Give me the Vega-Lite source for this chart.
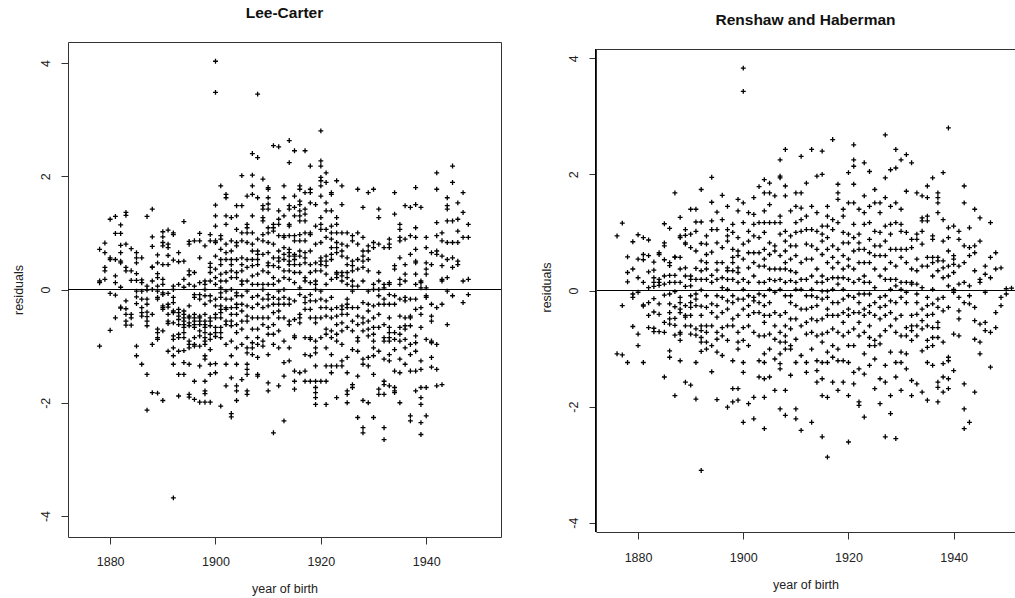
{
"$schema":"https://vega.github.io/schema/vega-lite/v6.json",
"background":"white",
"padding":{"left":11,"top":5,"right":0,"bottom":0},
"config":{
"font":"Liberation Sans",
"view":{"stroke":"#333","strokeWidth":1},
"axis":{"grid":false,"domain":false,"tickColor":"#333","tickSize":7,"tickWidth":1,"labelFont":"Liberation Sans","labelFontSize":12.5,"labelColor":"#222","titleFont":"Liberation Sans","titleFontSize":12.5,"titleFontWeight":"normal","titleColor":"#222","labelOverlap":false,"labelFlush":false},
"title":{"font":"Liberation Sans","fontSize":15.5,"fontWeight":"bold","color":"#111","offset":21,"anchor":"middle"},
"concat":{"spacing":37}
},
"datasets":{
"lc":[
{"x":1878,"y":0.71},{"x":1878,"y":0.15},{"x":1878,"y":0.12},{"x":1878,"y":-1.00},
{"x":1879,"y":0.82},{"x":1879,"y":0.65},{"x":1879,"y":0.39},{"x":1879,"y":0.33},{"x":1879,"y":0.18},
{"x":1880,"y":1.24},{"x":1880,"y":0.56},{"x":1880,"y":0.53},{"x":1880,"y":-0.07},{"x":1880,"y":-0.72},
{"x":1881,"y":1.29},{"x":1881,"y":0.99},{"x":1881,"y":0.53},{"x":1881,"y":0.24},{"x":1881,"y":0.12},{"x":1881,"y":-0.10},{"x":1881,"y":-0.50},
{"x":1882,"y":1.14},{"x":1882,"y":0.99},{"x":1882,"y":0.78},{"x":1882,"y":0.65},{"x":1882,"y":0.50},{"x":1882,"y":0.47},{"x":1882,"y":0.04},{"x":1882,"y":-0.31},{"x":1882,"y":-0.33},
{"x":1883,"y":1.36},{"x":1883,"y":1.31},{"x":1883,"y":0.80},{"x":1883,"y":0.39},{"x":1883,"y":0.33},{"x":1883,"y":-0.20},{"x":1883,"y":-0.34},{"x":1883,"y":-0.44},{"x":1883,"y":-0.56},{"x":1883,"y":-0.63},
{"x":1884,"y":0.72},{"x":1884,"y":0.33},{"x":1884,"y":0.16},{"x":1884,"y":-0.44},{"x":1884,"y":-0.50},{"x":1884,"y":-0.63},
{"x":1885,"y":0.65},{"x":1885,"y":0.56},{"x":1885,"y":0.47},{"x":1885,"y":0.28},{"x":1885,"y":0.16},{"x":1885,"y":-0.03},{"x":1885,"y":-0.13},{"x":1885,"y":-0.25},{"x":1885,"y":-1.00},{"x":1885,"y":-1.17},
{"x":1886,"y":0.56},{"x":1886,"y":0.17},{"x":1886,"y":0.12},{"x":1886,"y":-0.03},{"x":1886,"y":-0.17},{"x":1886,"y":-0.32},{"x":1886,"y":-0.41},{"x":1886,"y":-0.47},{"x":1886,"y":-1.32},
{"x":1887,"y":1.29},{"x":1887,"y":0.06},{"x":1887,"y":-0.01},{"x":1887,"y":-0.17},{"x":1887,"y":-0.26},{"x":1887,"y":-0.40},{"x":1887,"y":-0.48},{"x":1887,"y":-0.56},{"x":1887,"y":-0.64},{"x":1887,"y":-1.50},{"x":1887,"y":-2.13},
{"x":1888,"y":1.42},{"x":1888,"y":0.93},{"x":1888,"y":0.76},{"x":1888,"y":0.40},{"x":1888,"y":0.39},{"x":1888,"y":0.15},{"x":1888,"y":0.00},{"x":1888,"y":-0.44},{"x":1888,"y":-0.97},{"x":1888,"y":-1.82},
{"x":1889,"y":0.61},{"x":1889,"y":0.47},{"x":1889,"y":0.28},{"x":1889,"y":0.21},{"x":1889,"y":0.06},{"x":1889,"y":-0.03},{"x":1889,"y":-0.14},{"x":1889,"y":-0.17},{"x":1889,"y":-0.70},{"x":1889,"y":-0.76},{"x":1889,"y":-0.85},{"x":1889,"y":-0.88},{"x":1889,"y":-1.83},
{"x":1890,"y":1.02},{"x":1890,"y":0.93},{"x":1890,"y":0.83},{"x":1890,"y":0.77},{"x":1890,"y":0.44},{"x":1890,"y":0.18},{"x":1890,"y":0.09},{"x":1890,"y":-0.06},{"x":1890,"y":-0.09},{"x":1890,"y":-0.29},{"x":1890,"y":-0.32},{"x":1890,"y":-0.35},{"x":1890,"y":-0.73},{"x":1890,"y":-1.96},
{"x":1891,"y":1.05},{"x":1891,"y":0.80},{"x":1891,"y":0.74},{"x":1891,"y":0.60},{"x":1891,"y":0.44},{"x":1891,"y":-0.07},{"x":1891,"y":-0.26},{"x":1891,"y":-0.31},{"x":1891,"y":-0.44},{"x":1891,"y":-0.56},{"x":1891,"y":-0.60},{"x":1891,"y":-1.09},
{"x":1892,"y":1.00},{"x":1892,"y":0.97},{"x":1892,"y":0.52},{"x":1892,"y":0.06},{"x":1892,"y":0.00},{"x":1892,"y":-0.14},{"x":1892,"y":-0.23},{"x":1892,"y":-0.38},{"x":1892,"y":-0.41},{"x":1892,"y":-0.59},{"x":1892,"y":-0.82},{"x":1892,"y":-0.88},{"x":1892,"y":-1.03},{"x":1892,"y":-1.17},{"x":1892,"y":-1.32},{"x":1892,"y":-3.68},
{"x":1893,"y":0.65},{"x":1893,"y":0.49},{"x":1893,"y":0.09},{"x":1893,"y":-0.35},{"x":1893,"y":-0.41},{"x":1893,"y":-0.47},{"x":1893,"y":-0.53},{"x":1893,"y":-0.62},{"x":1893,"y":-0.79},{"x":1893,"y":-0.85},{"x":1893,"y":-1.09},{"x":1893,"y":-1.50},{"x":1893,"y":-1.88},
{"x":1894,"y":1.20},{"x":1894,"y":0.50},{"x":1894,"y":0.18},{"x":1894,"y":0.04},{"x":1894,"y":-0.38},{"x":1894,"y":-0.44},{"x":1894,"y":-0.50},{"x":1894,"y":-0.56},{"x":1894,"y":-0.62},{"x":1894,"y":-0.67},{"x":1894,"y":-0.76},{"x":1894,"y":-0.85},{"x":1894,"y":-1.08},{"x":1894,"y":-1.29},{"x":1894,"y":-1.50},
{"x":1895,"y":0.85},{"x":1895,"y":0.80},{"x":1895,"y":0.33},{"x":1895,"y":0.26},{"x":1895,"y":0.09},{"x":1895,"y":-0.29},{"x":1895,"y":-0.47},{"x":1895,"y":-0.50},{"x":1895,"y":-0.59},{"x":1895,"y":-0.64},{"x":1895,"y":-0.91},{"x":1895,"y":-0.97},{"x":1895,"y":-1.03},{"x":1895,"y":-1.32},{"x":1895,"y":-1.85},{"x":1895,"y":-1.90},
{"x":1896,"y":0.86},{"x":1896,"y":0.30},{"x":1896,"y":0.06},{"x":1896,"y":-0.09},{"x":1896,"y":-0.14},{"x":1896,"y":-0.44},{"x":1896,"y":-0.50},{"x":1896,"y":-0.56},{"x":1896,"y":-0.62},{"x":1896,"y":-0.67},{"x":1896,"y":-0.85},{"x":1896,"y":-0.97},{"x":1896,"y":-1.00},{"x":1896,"y":-1.62},{"x":1896,"y":-1.94},
{"x":1897,"y":0.99},{"x":1897,"y":0.86},{"x":1897,"y":0.56},{"x":1897,"y":0.12},{"x":1897,"y":-0.09},{"x":1897,"y":-0.17},{"x":1897,"y":-0.47},{"x":1897,"y":-0.50},{"x":1897,"y":-0.56},{"x":1897,"y":-0.62},{"x":1897,"y":-0.73},{"x":1897,"y":-0.82},{"x":1897,"y":-1.00},{"x":1897,"y":-1.35},{"x":1897,"y":-1.99},
{"x":1898,"y":0.77},{"x":1898,"y":0.15},{"x":1898,"y":0.09},{"x":1898,"y":0.00},{"x":1898,"y":-0.11},{"x":1898,"y":-0.26},{"x":1898,"y":-0.44},{"x":1898,"y":-0.56},{"x":1898,"y":-0.62},{"x":1898,"y":-0.67},{"x":1898,"y":-0.76},{"x":1898,"y":-0.85},{"x":1898,"y":-0.91},{"x":1898,"y":-0.97},{"x":1898,"y":-1.17},{"x":1898,"y":-1.23},{"x":1898,"y":-1.62},{"x":1898,"y":-1.79},{"x":1898,"y":-1.84},{"x":1898,"y":-1.99},
{"x":1899,"y":0.97},{"x":1899,"y":0.86},{"x":1899,"y":0.46},{"x":1899,"y":0.39},{"x":1899,"y":0.30},{"x":1899,"y":0.15},{"x":1899,"y":-0.11},{"x":1899,"y":-0.20},{"x":1899,"y":-0.50},{"x":1899,"y":-0.56},{"x":1899,"y":-0.64},{"x":1899,"y":-0.79},{"x":1899,"y":-0.88},{"x":1899,"y":-1.06},{"x":1899,"y":-1.32},{"x":1899,"y":-1.50},{"x":1899,"y":-1.99},
{"x":1900,"y":4.03},{"x":1900,"y":3.48},{"x":1900,"y":1.49},{"x":1900,"y":1.30},{"x":1900,"y":1.12},{"x":1900,"y":0.86},{"x":1900,"y":0.83},{"x":1900,"y":0.59},{"x":1900,"y":0.36},{"x":1900,"y":0.21},{"x":1900,"y":0.09},{"x":1900,"y":-0.17},{"x":1900,"y":-0.29},{"x":1900,"y":-0.44},{"x":1900,"y":-0.50},{"x":1900,"y":-0.67},{"x":1900,"y":-0.76},{"x":1900,"y":-0.83},{"x":1900,"y":-1.31},{"x":1900,"y":-1.47},
{"x":1901,"y":1.83},{"x":1901,"y":0.95},{"x":1901,"y":0.89},{"x":1901,"y":0.71},{"x":1901,"y":0.53},{"x":1901,"y":0.44},{"x":1901,"y":0.27},{"x":1901,"y":0.15},{"x":1901,"y":0.03},{"x":1901,"y":-0.06},{"x":1901,"y":-0.14},{"x":1901,"y":-0.29},{"x":1901,"y":-0.35},{"x":1901,"y":-0.41},{"x":1901,"y":-0.50},{"x":1901,"y":-0.67},{"x":1901,"y":-0.76},{"x":1901,"y":-0.85},{"x":1901,"y":-2.06},
{"x":1902,"y":1.68},{"x":1902,"y":1.62},{"x":1902,"y":1.30},{"x":1902,"y":1.15},{"x":1902,"y":0.80},{"x":1902,"y":0.65},{"x":1902,"y":0.53},{"x":1902,"y":0.30},{"x":1902,"y":0.15},{"x":1902,"y":-0.03},{"x":1902,"y":-0.17},{"x":1902,"y":-0.32},{"x":1902,"y":-0.35},{"x":1902,"y":-0.56},{"x":1902,"y":-0.62},{"x":1902,"y":-0.97},{"x":1902,"y":-1.32},{"x":1902,"y":-1.70},
{"x":1903,"y":1.27},{"x":1903,"y":0.86},{"x":1903,"y":0.68},{"x":1903,"y":0.53},{"x":1903,"y":0.44},{"x":1903,"y":0.33},{"x":1903,"y":0.21},{"x":1903,"y":0.00},{"x":1903,"y":-0.17},{"x":1903,"y":-0.32},{"x":1903,"y":-0.44},{"x":1903,"y":-0.56},{"x":1903,"y":-0.64},{"x":1903,"y":-0.91},{"x":1903,"y":-1.17},{"x":1903,"y":-1.56},{"x":1903,"y":-2.19},{"x":1903,"y":-2.25},
{"x":1904,"y":1.48},{"x":1904,"y":1.30},{"x":1904,"y":1.06},{"x":1904,"y":0.83},{"x":1904,"y":0.77},{"x":1904,"y":0.53},{"x":1904,"y":0.30},{"x":1904,"y":0.21},{"x":1904,"y":-0.06},{"x":1904,"y":-0.11},{"x":1904,"y":-0.26},{"x":1904,"y":-0.32},{"x":1904,"y":-0.44},{"x":1904,"y":-0.62},{"x":1904,"y":-0.76},{"x":1904,"y":-1.03},{"x":1904,"y":-1.32},{"x":1904,"y":-1.70},{"x":1904,"y":-1.79},{"x":1904,"y":-1.96},
{"x":1905,"y":2.01},{"x":1905,"y":1.48},{"x":1905,"y":1.00},{"x":1905,"y":0.86},{"x":1905,"y":0.56},{"x":1905,"y":0.44},{"x":1905,"y":0.33},{"x":1905,"y":0.15},{"x":1905,"y":0.09},{"x":1905,"y":-0.11},{"x":1905,"y":-0.26},{"x":1905,"y":-0.38},{"x":1905,"y":-0.56},{"x":1905,"y":-0.70},{"x":1905,"y":-0.97},{"x":1905,"y":-1.59},
{"x":1906,"y":1.65},{"x":1906,"y":1.15},{"x":1906,"y":1.09},{"x":1906,"y":1.00},{"x":1906,"y":0.83},{"x":1906,"y":0.53},{"x":1906,"y":0.39},{"x":1906,"y":0.15},{"x":1906,"y":-0.03},{"x":1906,"y":-0.29},{"x":1906,"y":-0.47},{"x":1906,"y":-0.56},{"x":1906,"y":-0.85},{"x":1906,"y":-1.03},{"x":1906,"y":-1.12},{"x":1906,"y":-1.32},{"x":1906,"y":-1.41},{"x":1906,"y":-1.50},{"x":1906,"y":-1.79},{"x":1906,"y":-1.85},
{"x":1907,"y":2.40},{"x":1907,"y":2.02},{"x":1907,"y":1.83},{"x":1907,"y":1.68},{"x":1907,"y":1.30},{"x":1907,"y":1.00},{"x":1907,"y":0.80},{"x":1907,"y":0.68},{"x":1907,"y":0.53},{"x":1907,"y":0.42},{"x":1907,"y":0.24},{"x":1907,"y":0.09},{"x":1907,"y":-0.14},{"x":1907,"y":-0.32},{"x":1907,"y":-0.50},{"x":1907,"y":-0.70},{"x":1907,"y":-0.94},{"x":1907,"y":-1.03},{"x":1907,"y":-1.15},
{"x":1908,"y":3.45},{"x":1908,"y":2.33},{"x":1908,"y":1.62},{"x":1908,"y":0.89},{"x":1908,"y":0.68},{"x":1908,"y":0.62},{"x":1908,"y":0.53},{"x":1908,"y":0.44},{"x":1908,"y":0.27},{"x":1908,"y":0.09},{"x":1908,"y":-0.11},{"x":1908,"y":-0.26},{"x":1908,"y":-0.50},{"x":1908,"y":-0.70},{"x":1908,"y":-0.85},{"x":1908,"y":-0.97},{"x":1908,"y":-1.20},{"x":1908,"y":-1.50},{"x":1908,"y":-1.53},
{"x":1909,"y":1.95},{"x":1909,"y":1.48},{"x":1909,"y":1.42},{"x":1909,"y":1.27},{"x":1909,"y":1.21},{"x":1909,"y":0.97},{"x":1909,"y":0.86},{"x":1909,"y":0.62},{"x":1909,"y":0.33},{"x":1909,"y":0.09},{"x":1909,"y":0.00},{"x":1909,"y":-0.17},{"x":1909,"y":-0.32},{"x":1909,"y":-0.50},{"x":1909,"y":-0.62},{"x":1909,"y":-0.91},{"x":1909,"y":-1.00},
{"x":1910,"y":1.80},{"x":1910,"y":1.77},{"x":1910,"y":1.62},{"x":1910,"y":1.51},{"x":1910,"y":1.42},{"x":1910,"y":1.09},{"x":1910,"y":1.00},{"x":1910,"y":0.83},{"x":1910,"y":0.65},{"x":1910,"y":0.47},{"x":1910,"y":0.42},{"x":1910,"y":0.30},{"x":1910,"y":0.09},{"x":1910,"y":-0.09},{"x":1910,"y":-0.17},{"x":1910,"y":-0.29},{"x":1910,"y":-0.50},{"x":1910,"y":-0.67},{"x":1910,"y":-0.79},{"x":1910,"y":-1.15},{"x":1910,"y":-1.65},{"x":1910,"y":-1.79},
{"x":1911,"y":2.54},{"x":1911,"y":1.15},{"x":1911,"y":1.09},{"x":1911,"y":1.03},{"x":1911,"y":0.80},{"x":1911,"y":0.56},{"x":1911,"y":0.42},{"x":1911,"y":0.21},{"x":1911,"y":0.09},{"x":1911,"y":-0.14},{"x":1911,"y":-0.26},{"x":1911,"y":-0.41},{"x":1911,"y":-0.62},{"x":1911,"y":-0.79},{"x":1911,"y":-0.97},{"x":1911,"y":-2.53},
{"x":1912,"y":2.52},{"x":1912,"y":1.39},{"x":1912,"y":1.24},{"x":1912,"y":1.15},{"x":1912,"y":0.95},{"x":1912,"y":0.68},{"x":1912,"y":0.56},{"x":1912,"y":0.50},{"x":1912,"y":0.39},{"x":1912,"y":0.15},{"x":1912,"y":-0.03},{"x":1912,"y":-0.17},{"x":1912,"y":-0.26},{"x":1912,"y":-0.38},{"x":1912,"y":-0.50},{"x":1912,"y":-0.73},{"x":1912,"y":-1.03},{"x":1912,"y":-1.70},
{"x":1913,"y":1.83},{"x":1913,"y":1.62},{"x":1913,"y":1.30},{"x":1913,"y":0.95},{"x":1913,"y":0.92},{"x":1913,"y":0.74},{"x":1913,"y":0.62},{"x":1913,"y":0.53},{"x":1913,"y":0.33},{"x":1913,"y":0.21},{"x":1913,"y":0.00},{"x":1913,"y":-0.14},{"x":1913,"y":-0.26},{"x":1913,"y":-0.50},{"x":1913,"y":-0.91},{"x":1913,"y":-1.29},{"x":1913,"y":-1.53},{"x":1913,"y":-2.32},
{"x":1914,"y":2.63},{"x":1914,"y":2.24},{"x":1914,"y":1.48},{"x":1914,"y":1.42},{"x":1914,"y":1.15},{"x":1914,"y":1.12},{"x":1914,"y":0.95},{"x":1914,"y":0.71},{"x":1914,"y":0.65},{"x":1914,"y":0.59},{"x":1914,"y":0.50},{"x":1914,"y":0.44},{"x":1914,"y":0.33},{"x":1914,"y":0.18},{"x":1914,"y":-0.17},{"x":1914,"y":-0.26},{"x":1914,"y":-0.56},{"x":1914,"y":-0.62},{"x":1914,"y":-1.03},{"x":1914,"y":-1.26},
{"x":1915,"y":2.45},{"x":1915,"y":1.65},{"x":1915,"y":1.45},{"x":1915,"y":1.30},{"x":1915,"y":0.95},{"x":1915,"y":0.86},{"x":1915,"y":0.62},{"x":1915,"y":0.59},{"x":1915,"y":0.53},{"x":1915,"y":0.44},{"x":1915,"y":0.30},{"x":1915,"y":0.12},{"x":1915,"y":-0.20},{"x":1915,"y":-0.53},{"x":1915,"y":-0.82},{"x":1915,"y":-0.85},{"x":1915,"y":-1.44},{"x":1915,"y":-1.62},{"x":1915,"y":-1.76},
{"x":1916,"y":1.83},{"x":1916,"y":1.77},{"x":1916,"y":1.56},{"x":1916,"y":1.50},{"x":1916,"y":1.39},{"x":1916,"y":1.30},{"x":1916,"y":1.21},{"x":1916,"y":0.97},{"x":1916,"y":0.86},{"x":1916,"y":0.68},{"x":1916,"y":0.59},{"x":1916,"y":0.44},{"x":1916,"y":0.30},{"x":1916,"y":0.03},{"x":1916,"y":-0.09},{"x":1916,"y":-0.44},{"x":1916,"y":-0.50},{"x":1916,"y":-0.59},{"x":1916,"y":-1.47},
{"x":1917,"y":2.45},{"x":1917,"y":1.71},{"x":1917,"y":1.42},{"x":1917,"y":1.33},{"x":1917,"y":1.21},{"x":1917,"y":1.00},{"x":1917,"y":0.86},{"x":1917,"y":0.65},{"x":1917,"y":0.56},{"x":1917,"y":0.47},{"x":1917,"y":0.21},{"x":1917,"y":0.15},{"x":1917,"y":-0.14},{"x":1917,"y":-0.23},{"x":1917,"y":-0.35},{"x":1917,"y":-0.85},{"x":1917,"y":-1.15},{"x":1917,"y":-1.44},{"x":1917,"y":-1.62},
{"x":1918,"y":2.18},{"x":1918,"y":1.77},{"x":1918,"y":1.71},{"x":1918,"y":1.53},{"x":1918,"y":1.00},{"x":1918,"y":0.97},{"x":1918,"y":0.68},{"x":1918,"y":0.44},{"x":1918,"y":0.30},{"x":1918,"y":0.12},{"x":1918,"y":-0.09},{"x":1918,"y":-0.20},{"x":1918,"y":-0.35},{"x":1918,"y":-0.50},{"x":1918,"y":-0.85},{"x":1918,"y":-0.88},{"x":1918,"y":-1.17},{"x":1918,"y":-1.62},
{"x":1919,"y":1.50},{"x":1919,"y":1.12},{"x":1919,"y":0.80},{"x":1919,"y":0.47},{"x":1919,"y":0.33},{"x":1919,"y":0.15},{"x":1919,"y":0.09},{"x":1919,"y":0.00},{"x":1919,"y":-0.20},{"x":1919,"y":-0.50},{"x":1919,"y":-0.59},{"x":1919,"y":-0.91},{"x":1919,"y":-1.03},{"x":1919,"y":-1.12},{"x":1919,"y":-1.35},{"x":1919,"y":-1.62},{"x":1919,"y":-1.73},{"x":1919,"y":-1.82},{"x":1919,"y":-1.91},{"x":1919,"y":-2.03},
{"x":1920,"y":2.80},{"x":1920,"y":2.27},{"x":1920,"y":2.18},{"x":1920,"y":1.98},{"x":1920,"y":1.92},{"x":1920,"y":1.83},{"x":1920,"y":1.65},{"x":1920,"y":1.27},{"x":1920,"y":1.15},{"x":1920,"y":1.06},{"x":1920,"y":0.83},{"x":1920,"y":0.56},{"x":1920,"y":0.50},{"x":1920,"y":0.44},{"x":1920,"y":0.33},{"x":1920,"y":-0.03},{"x":1920,"y":-0.17},{"x":1920,"y":-0.32},{"x":1920,"y":-0.50},{"x":1920,"y":-0.85},{"x":1920,"y":-1.62},
{"x":1921,"y":2.06},{"x":1921,"y":1.89},{"x":1921,"y":1.53},{"x":1921,"y":1.39},{"x":1921,"y":1.06},{"x":1921,"y":0.92},{"x":1921,"y":0.59},{"x":1921,"y":0.50},{"x":1921,"y":0.42},{"x":1921,"y":0.27},{"x":1921,"y":0.09},{"x":1921,"y":-0.20},{"x":1921,"y":-0.32},{"x":1921,"y":-0.47},{"x":1921,"y":-0.70},{"x":1921,"y":-0.79},{"x":1921,"y":-1.03},{"x":1921,"y":-1.35},{"x":1921,"y":-1.62},{"x":1921,"y":-2.03},
{"x":1922,"y":1.71},{"x":1922,"y":1.68},{"x":1922,"y":1.39},{"x":1922,"y":1.12},{"x":1922,"y":1.00},{"x":1922,"y":0.89},{"x":1922,"y":0.74},{"x":1922,"y":0.62},{"x":1922,"y":0.53},{"x":1922,"y":0.18},{"x":1922,"y":-0.14},{"x":1922,"y":-0.35},{"x":1922,"y":-0.50},{"x":1922,"y":-0.73},{"x":1922,"y":-0.85},{"x":1922,"y":-1.15},{"x":1922,"y":-1.35},{"x":1922,"y":-1.47},
{"x":1923,"y":1.92},{"x":1923,"y":1.27},{"x":1923,"y":1.15},{"x":1923,"y":1.00},{"x":1923,"y":0.83},{"x":1923,"y":0.74},{"x":1923,"y":0.65},{"x":1923,"y":0.30},{"x":1923,"y":0.27},{"x":1923,"y":0.21},{"x":1923,"y":-0.32},{"x":1923,"y":-0.47},{"x":1923,"y":-0.62},{"x":1923,"y":-0.79},{"x":1923,"y":-0.91},{"x":1923,"y":-1.35},{"x":1923,"y":-1.91},
{"x":1924,"y":1.83},{"x":1924,"y":1.50},{"x":1924,"y":1.00},{"x":1924,"y":0.80},{"x":1924,"y":0.68},{"x":1924,"y":0.59},{"x":1924,"y":0.30},{"x":1924,"y":0.24},{"x":1924,"y":0.15},{"x":1924,"y":-0.29},{"x":1924,"y":-0.35},{"x":1924,"y":-0.44},{"x":1924,"y":-0.59},{"x":1924,"y":-0.73},{"x":1924,"y":-0.97},{"x":1924,"y":-1.26},{"x":1924,"y":-1.35},
{"x":1925,"y":1.00},{"x":1925,"y":0.77},{"x":1925,"y":0.56},{"x":1925,"y":0.44},{"x":1925,"y":0.30},{"x":1925,"y":0.21},{"x":1925,"y":0.09},{"x":1925,"y":-0.17},{"x":1925,"y":-0.26},{"x":1925,"y":-0.32},{"x":1925,"y":-0.44},{"x":1925,"y":-0.67},{"x":1925,"y":-1.20},{"x":1925,"y":-1.47},{"x":1925,"y":-1.79},{"x":1925,"y":-1.85},{"x":1925,"y":-2.00},
{"x":1926,"y":0.95},{"x":1926,"y":0.86},{"x":1926,"y":0.50},{"x":1926,"y":0.42},{"x":1926,"y":0.33},{"x":1926,"y":0.15},{"x":1926,"y":0.06},{"x":1926,"y":-0.03},{"x":1926,"y":-0.32},{"x":1926,"y":-0.56},{"x":1926,"y":-0.73},{"x":1926,"y":-1.06},{"x":1926,"y":-1.68},{"x":1926,"y":-1.73},
{"x":1927,"y":1.77},{"x":1927,"y":1.00},{"x":1927,"y":0.80},{"x":1927,"y":0.53},{"x":1927,"y":0.36},{"x":1927,"y":0.06},{"x":1927,"y":-0.32},{"x":1927,"y":-0.47},{"x":1927,"y":-0.62},{"x":1927,"y":-0.85},{"x":1927,"y":-0.91},{"x":1927,"y":-1.09},{"x":1927,"y":-1.53},{"x":1927,"y":-2.26},
{"x":1928,"y":1.45},{"x":1928,"y":0.92},{"x":1928,"y":0.68},{"x":1928,"y":0.59},{"x":1928,"y":0.50},{"x":1928,"y":0.39},{"x":1928,"y":0.15},{"x":1928,"y":-0.23},{"x":1928,"y":-0.50},{"x":1928,"y":-0.59},{"x":1928,"y":-0.73},{"x":1928,"y":-1.23},{"x":1928,"y":-1.32},{"x":1928,"y":-1.96},{"x":1928,"y":-2.44},{"x":1928,"y":-2.53},
{"x":1929,"y":1.71},{"x":1929,"y":0.77},{"x":1929,"y":0.68},{"x":1929,"y":0.53},{"x":1929,"y":0.33},{"x":1929,"y":-0.03},{"x":1929,"y":-0.26},{"x":1929,"y":-0.38},{"x":1929,"y":-0.56},{"x":1929,"y":-0.70},{"x":1929,"y":-0.82},{"x":1929,"y":-1.20},{"x":1929,"y":-1.35},{"x":1929,"y":-2.00},
{"x":1930,"y":1.77},{"x":1930,"y":0.83},{"x":1930,"y":0.74},{"x":1930,"y":0.09},{"x":1930,"y":0.00},{"x":1930,"y":-0.29},{"x":1930,"y":-0.50},{"x":1930,"y":-0.67},{"x":1930,"y":-0.79},{"x":1930,"y":-0.91},{"x":1930,"y":-1.03},{"x":1930,"y":-1.17},{"x":1930,"y":-1.50},{"x":1930,"y":-2.26},
{"x":1931,"y":1.42},{"x":1931,"y":1.27},{"x":1931,"y":0.80},{"x":1931,"y":0.30},{"x":1931,"y":0.15},{"x":1931,"y":0.00},{"x":1931,"y":-0.11},{"x":1931,"y":-0.26},{"x":1931,"y":-0.44},{"x":1931,"y":-0.67},{"x":1931,"y":-1.09},{"x":1931,"y":-1.76},{"x":1931,"y":-1.85},
{"x":1932,"y":0.74},{"x":1932,"y":0.09},{"x":1932,"y":0.03},{"x":1932,"y":-0.17},{"x":1932,"y":-0.26},{"x":1932,"y":-0.62},{"x":1932,"y":-0.85},{"x":1932,"y":-0.91},{"x":1932,"y":-1.23},{"x":1932,"y":-1.62},{"x":1932,"y":-1.68},{"x":1932,"y":-1.85},{"x":1932,"y":-2.44},{"x":1932,"y":-2.65},
{"x":1933,"y":0.89},{"x":1933,"y":0.80},{"x":1933,"y":0.74},{"x":1933,"y":0.12},{"x":1933,"y":0.09},{"x":1933,"y":-0.09},{"x":1933,"y":-0.26},{"x":1933,"y":-0.50},{"x":1933,"y":-0.67},{"x":1933,"y":-0.76},{"x":1933,"y":-0.85},{"x":1933,"y":-0.91},{"x":1933,"y":-1.15},{"x":1933,"y":-1.26},{"x":1933,"y":-1.70},
{"x":1934,"y":1.71},{"x":1934,"y":1.33},{"x":1934,"y":0.42},{"x":1934,"y":0.36},{"x":1934,"y":-0.11},{"x":1934,"y":-0.26},{"x":1934,"y":-0.76},{"x":1934,"y":-0.88},{"x":1934,"y":-1.06},{"x":1934,"y":-1.44},{"x":1934,"y":-1.73},{"x":1934,"y":-1.79},{"x":1934,"y":-1.82},
{"x":1935,"y":1.15},{"x":1935,"y":1.06},{"x":1935,"y":0.92},{"x":1935,"y":0.86},{"x":1935,"y":0.56},{"x":1935,"y":0.18},{"x":1935,"y":0.09},{"x":1935,"y":-0.17},{"x":1935,"y":-0.47},{"x":1935,"y":-0.67},{"x":1935,"y":-0.79},{"x":1935,"y":-0.91},{"x":1935,"y":-1.23},{"x":1935,"y":-1.47},{"x":1935,"y":-2.00},
{"x":1936,"y":1.48},{"x":1936,"y":0.89},{"x":1936,"y":0.44},{"x":1936,"y":0.27},{"x":1936,"y":0.15},{"x":1936,"y":-0.14},{"x":1936,"y":-0.20},{"x":1936,"y":-0.50},{"x":1936,"y":-0.64},{"x":1936,"y":-0.70},{"x":1936,"y":-0.88},{"x":1936,"y":-1.03},{"x":1936,"y":-1.32},
{"x":1937,"y":1.45},{"x":1937,"y":0.95},{"x":1937,"y":0.62},{"x":1937,"y":-0.17},{"x":1937,"y":-0.47},{"x":1937,"y":-0.50},{"x":1937,"y":-0.64},{"x":1937,"y":-0.97},{"x":1937,"y":-1.15},{"x":1937,"y":-1.44},{"x":1937,"y":-2.23},{"x":1937,"y":-2.32},
{"x":1938,"y":1.80},{"x":1938,"y":1.50},{"x":1938,"y":1.09},{"x":1938,"y":0.92},{"x":1938,"y":0.71},{"x":1938,"y":0.50},{"x":1938,"y":0.47},{"x":1938,"y":0.27},{"x":1938,"y":0.09},{"x":1938,"y":-0.17},{"x":1938,"y":-0.35},{"x":1938,"y":-0.82},{"x":1938,"y":-0.94},{"x":1938,"y":-1.09},{"x":1938,"y":-1.44},{"x":1938,"y":-1.79},
{"x":1939,"y":1.45},{"x":1939,"y":0.15},{"x":1939,"y":0.12},{"x":1939,"y":0.03},{"x":1939,"y":-0.32},{"x":1939,"y":-0.44},{"x":1939,"y":-0.67},{"x":1939,"y":-1.26},{"x":1939,"y":-1.41},{"x":1939,"y":-1.73},{"x":1939,"y":-1.91},{"x":1939,"y":-2.03},{"x":1939,"y":-2.35},{"x":1939,"y":-2.56},
{"x":1940,"y":0.92},{"x":1940,"y":0.74},{"x":1940,"y":0.47},{"x":1940,"y":0.36},{"x":1940,"y":0.27},{"x":1940,"y":0.03},{"x":1940,"y":-0.11},{"x":1940,"y":-0.14},{"x":1940,"y":-0.88},{"x":1940,"y":-1.73},{"x":1940,"y":-2.23},
{"x":1941,"y":0.65},{"x":1941,"y":0.44},{"x":1941,"y":-0.26},{"x":1941,"y":-0.47},{"x":1941,"y":-0.56},{"x":1941,"y":-0.91},{"x":1941,"y":-0.94},{"x":1941,"y":-1.20},{"x":1941,"y":-1.37},
{"x":1942,"y":2.06},{"x":1942,"y":1.77},{"x":1942,"y":1.18},{"x":1942,"y":0.95},{"x":1942,"y":0.68},{"x":1942,"y":0.62},{"x":1942,"y":-0.32},{"x":1942,"y":-0.97},{"x":1942,"y":-1.41},{"x":1942,"y":-1.70},
{"x":1943,"y":1.00},{"x":1943,"y":0.86},{"x":1943,"y":0.59},{"x":1943,"y":0.42},{"x":1943,"y":0.18},{"x":1943,"y":0.15},{"x":1943,"y":-0.26},{"x":1943,"y":-1.68},
{"x":1944,"y":1.62},{"x":1944,"y":1.48},{"x":1944,"y":1.42},{"x":1944,"y":1.21},{"x":1944,"y":0.83},{"x":1944,"y":0.53},{"x":1944,"y":0.21},{"x":1944,"y":-0.03},{"x":1944,"y":-0.62},
{"x":1945,"y":2.18},{"x":1945,"y":1.89},{"x":1945,"y":1.21},{"x":1945,"y":0.83},{"x":1945,"y":0.56},{"x":1945,"y":0.39},{"x":1945,"y":-0.11},
{"x":1946,"y":1.53},{"x":1946,"y":1.24},{"x":1946,"y":1.03},{"x":1946,"y":0.83},{"x":1946,"y":0.50},{"x":1946,"y":0.44},
{"x":1947,"y":1.71},{"x":1947,"y":1.36},{"x":1947,"y":0.92},{"x":1947,"y":0.15},{"x":1947,"y":-0.23},
{"x":1948,"y":1.15},{"x":1948,"y":0.92},{"x":1948,"y":0.18},{"x":1948,"y":-0.09}
],
"rh":[
{"x":1876,"y":0.94},{"x":1876,"y":-1.09},
{"x":1877,"y":1.16},{"x":1877,"y":-0.26},{"x":1877,"y":-1.11},
{"x":1878,"y":0.58},{"x":1878,"y":0.31},{"x":1878,"y":0.15},{"x":1878,"y":-1.24},
{"x":1879,"y":0.84},{"x":1879,"y":0.37},{"x":1879,"y":-0.06},{"x":1879,"y":-0.12},{"x":1879,"y":-0.62},
{"x":1880,"y":0.96},{"x":1880,"y":0.54},{"x":1880,"y":0.22},{"x":1880,"y":-0.03},{"x":1880,"y":-0.75},{"x":1880,"y":-0.95},
{"x":1881,"y":0.91},{"x":1881,"y":0.62},{"x":1881,"y":0.53},{"x":1881,"y":0.14},{"x":1881,"y":-0.25},{"x":1881,"y":-0.27},{"x":1881,"y":-1.24},
{"x":1882,"y":0.87},{"x":1882,"y":0.60},{"x":1882,"y":0.32},{"x":1882,"y":0.05},{"x":1882,"y":-0.21},{"x":1882,"y":-0.43},{"x":1882,"y":-0.64},
{"x":1883,"y":0.49},{"x":1883,"y":0.35},{"x":1883,"y":0.22},{"x":1883,"y":0.14},{"x":1883,"y":0.07},{"x":1883,"y":-0.14},{"x":1883,"y":-0.37},{"x":1883,"y":-0.65},{"x":1883,"y":-0.71},
{"x":1884,"y":0.65},{"x":1884,"y":0.62},{"x":1884,"y":0.19},{"x":1884,"y":0.14},{"x":1884,"y":0.09},{"x":1884,"y":-0.23},{"x":1884,"y":-0.41},{"x":1884,"y":-0.71},
{"x":1885,"y":1.15},{"x":1885,"y":0.82},{"x":1885,"y":0.77},{"x":1885,"y":0.53},{"x":1885,"y":0.25},{"x":1885,"y":0.11},{"x":1885,"y":-0.08},{"x":1885,"y":-0.55},{"x":1885,"y":-0.72},{"x":1885,"y":-1.49},
{"x":1886,"y":1.07},{"x":1886,"y":0.48},{"x":1886,"y":0.43},{"x":1886,"y":0.26},{"x":1886,"y":0.14},{"x":1886,"y":-0.06},{"x":1886,"y":-0.23},{"x":1886,"y":-0.38},{"x":1886,"y":-0.49},{"x":1886,"y":-0.58},{"x":1886,"y":-1.04},{"x":1886,"y":-1.15},
{"x":1887,"y":1.68},{"x":1887,"y":0.58},{"x":1887,"y":0.57},{"x":1887,"y":0.26},{"x":1887,"y":0.14},{"x":1887,"y":-0.02},{"x":1887,"y":-0.28},{"x":1887,"y":-0.48},{"x":1887,"y":-0.60},{"x":1887,"y":-0.77},{"x":1887,"y":-1.81},
{"x":1888,"y":1.26},{"x":1888,"y":0.94},{"x":1888,"y":0.91},{"x":1888,"y":0.57},{"x":1888,"y":0.37},{"x":1888,"y":0.14},{"x":1888,"y":-0.12},{"x":1888,"y":-0.21},{"x":1888,"y":-0.32},{"x":1888,"y":-0.38},{"x":1888,"y":-0.72},{"x":1888,"y":-0.75},{"x":1888,"y":-0.86},{"x":1888,"y":-1.21},
{"x":1889,"y":1.05},{"x":1889,"y":0.95},{"x":1889,"y":0.82},{"x":1889,"y":0.80},{"x":1889,"y":0.39},{"x":1889,"y":0.25},{"x":1889,"y":0.07},{"x":1889,"y":-0.26},{"x":1889,"y":-0.43},{"x":1889,"y":-0.46},{"x":1889,"y":-0.61},{"x":1889,"y":-1.58},
{"x":1890,"y":1.40},{"x":1890,"y":0.97},{"x":1890,"y":0.74},{"x":1890,"y":0.25},{"x":1890,"y":0.19},{"x":1890,"y":0.08},{"x":1890,"y":-0.09},{"x":1890,"y":-0.21},{"x":1890,"y":-0.29},{"x":1890,"y":-0.43},{"x":1890,"y":-0.61},{"x":1890,"y":-0.75},{"x":1890,"y":-1.63},
{"x":1891,"y":1.40},{"x":1891,"y":1.18},{"x":1891,"y":1.02},{"x":1891,"y":0.68},{"x":1891,"y":0.38},{"x":1891,"y":0.19},{"x":1891,"y":-0.06},{"x":1891,"y":-0.15},{"x":1891,"y":-0.26},{"x":1891,"y":-0.66},{"x":1891,"y":-0.77},{"x":1891,"y":-1.24},{"x":1891,"y":-1.87},
{"x":1892,"y":1.74},{"x":1892,"y":1.18},{"x":1892,"y":0.81},{"x":1892,"y":0.51},{"x":1892,"y":0.34},{"x":1892,"y":0.19},{"x":1892,"y":0.01},{"x":1892,"y":-0.27},{"x":1892,"y":-0.43},{"x":1892,"y":-0.61},{"x":1892,"y":-0.69},{"x":1892,"y":-0.81},{"x":1892,"y":-0.89},{"x":1892,"y":-1.05},{"x":1892,"y":-3.10},
{"x":1893,"y":0.94},{"x":1893,"y":0.80},{"x":1893,"y":0.62},{"x":1893,"y":0.48},{"x":1893,"y":0.37},{"x":1893,"y":0.19},{"x":1893,"y":-0.09},{"x":1893,"y":-0.29},{"x":1893,"y":-0.61},{"x":1893,"y":-0.72},{"x":1893,"y":-0.89},{"x":1893,"y":-1.01},
{"x":1894,"y":1.95},{"x":1894,"y":1.52},{"x":1894,"y":1.20},{"x":1894,"y":1.05},{"x":1894,"y":0.66},{"x":1894,"y":0.26},{"x":1894,"y":0.14},{"x":1894,"y":-0.23},{"x":1894,"y":-0.38},{"x":1894,"y":-0.61},{"x":1894,"y":-0.95},{"x":1894,"y":-1.40},
{"x":1895,"y":1.35},{"x":1895,"y":1.05},{"x":1895,"y":0.82},{"x":1895,"y":0.48},{"x":1895,"y":0.35},{"x":1895,"y":0.19},{"x":1895,"y":-0.09},{"x":1895,"y":-0.26},{"x":1895,"y":-0.46},{"x":1895,"y":-0.72},{"x":1895,"y":-0.84},{"x":1895,"y":-1.06},{"x":1895,"y":-1.88},
{"x":1896,"y":1.64},{"x":1896,"y":1.22},{"x":1896,"y":0.74},{"x":1896,"y":0.48},{"x":1896,"y":0.22},{"x":1896,"y":0.05},{"x":1896,"y":-0.12},{"x":1896,"y":-0.38},{"x":1896,"y":-0.64},{"x":1896,"y":-0.78},{"x":1896,"y":-1.12},
{"x":1897,"y":1.45},{"x":1897,"y":1.05},{"x":1897,"y":0.94},{"x":1897,"y":0.85},{"x":1897,"y":0.39},{"x":1897,"y":0.34},{"x":1897,"y":0.19},{"x":1897,"y":0.02},{"x":1897,"y":-0.18},{"x":1897,"y":-0.32},{"x":1897,"y":-0.61},{"x":1897,"y":-0.86},{"x":1897,"y":-2.01},
{"x":1898,"y":1.14},{"x":1898,"y":1.00},{"x":1898,"y":0.71},{"x":1898,"y":0.57},{"x":1898,"y":0.48},{"x":1898,"y":0.34},{"x":1898,"y":0.19},{"x":1898,"y":-0.09},{"x":1898,"y":-0.21},{"x":1898,"y":-0.49},{"x":1898,"y":-0.61},{"x":1898,"y":-1.21},{"x":1898,"y":-1.69},{"x":1898,"y":-1.92},
{"x":1899,"y":1.57},{"x":1899,"y":1.37},{"x":1899,"y":0.91},{"x":1899,"y":0.68},{"x":1899,"y":0.60},{"x":1899,"y":0.39},{"x":1899,"y":0.31},{"x":1899,"y":0.14},{"x":1899,"y":-0.15},{"x":1899,"y":-0.43},{"x":1899,"y":-0.72},{"x":1899,"y":-0.89},{"x":1899,"y":-1.01},{"x":1899,"y":-1.69},{"x":1899,"y":-1.89},
{"x":1900,"y":3.83},{"x":1900,"y":3.43},{"x":1900,"y":1.51},{"x":1900,"y":1.17},{"x":1900,"y":0.80},{"x":1900,"y":0.54},{"x":1900,"y":0.19},{"x":1900,"y":0.02},{"x":1900,"y":-0.15},{"x":1900,"y":-0.32},{"x":1900,"y":-0.64},{"x":1900,"y":-0.86},{"x":1900,"y":-1.24},{"x":1900,"y":-1.41},{"x":1900,"y":-2.27},
{"x":1901,"y":1.34},{"x":1901,"y":1.02},{"x":1901,"y":0.85},{"x":1901,"y":0.65},{"x":1901,"y":0.39},{"x":1901,"y":0.14},{"x":1901,"y":-0.09},{"x":1901,"y":-0.26},{"x":1901,"y":-0.43},{"x":1901,"y":-0.61},{"x":1901,"y":-0.95},{"x":1901,"y":-1.95},
{"x":1902,"y":1.60},{"x":1902,"y":1.31},{"x":1902,"y":1.14},{"x":1902,"y":0.94},{"x":1902,"y":0.65},{"x":1902,"y":0.48},{"x":1902,"y":0.25},{"x":1902,"y":-0.12},{"x":1902,"y":-0.18},{"x":1902,"y":-0.38},{"x":1902,"y":-0.72},{"x":1902,"y":-1.84},{"x":1902,"y":-2.21},
{"x":1903,"y":1.79},{"x":1903,"y":1.17},{"x":1903,"y":0.91},{"x":1903,"y":0.65},{"x":1903,"y":0.42},{"x":1903,"y":0.14},{"x":1903,"y":-0.06},{"x":1903,"y":-0.21},{"x":1903,"y":-0.38},{"x":1903,"y":-0.78},{"x":1903,"y":-1.21},{"x":1903,"y":-1.49},
{"x":1904,"y":1.91},{"x":1904,"y":1.68},{"x":1904,"y":1.37},{"x":1904,"y":1.17},{"x":1904,"y":1.00},{"x":1904,"y":0.71},{"x":1904,"y":0.54},{"x":1904,"y":0.42},{"x":1904,"y":0.14},{"x":1904,"y":-0.09},{"x":1904,"y":-0.26},{"x":1904,"y":-0.43},{"x":1904,"y":-0.55},{"x":1904,"y":-0.78},{"x":1904,"y":-1.09},{"x":1904,"y":-1.24},{"x":1904,"y":-1.52},{"x":1904,"y":-1.84},{"x":1904,"y":-2.38},
{"x":1905,"y":1.85},{"x":1905,"y":1.68},{"x":1905,"y":1.48},{"x":1905,"y":1.17},{"x":1905,"y":0.82},{"x":1905,"y":0.62},{"x":1905,"y":0.37},{"x":1905,"y":0.19},{"x":1905,"y":0.02},{"x":1905,"y":-0.21},{"x":1905,"y":-0.43},{"x":1905,"y":-0.75},{"x":1905,"y":-1.01},{"x":1905,"y":-1.49},
{"x":1906,"y":1.63},{"x":1906,"y":1.17},{"x":1906,"y":0.77},{"x":1906,"y":0.68},{"x":1906,"y":0.37},{"x":1906,"y":0.17},{"x":1906,"y":-0.03},{"x":1906,"y":-0.38},{"x":1906,"y":-0.61},{"x":1906,"y":-0.84},{"x":1906,"y":-1.18},{"x":1906,"y":-1.72},
{"x":1907,"y":2.25},{"x":1907,"y":1.97},{"x":1907,"y":1.94},{"x":1907,"y":1.28},{"x":1907,"y":1.17},{"x":1907,"y":0.97},{"x":1907,"y":0.60},{"x":1907,"y":0.37},{"x":1907,"y":0.19},{"x":1907,"y":0.02},{"x":1907,"y":-0.43},{"x":1907,"y":-0.72},{"x":1907,"y":-0.89},{"x":1907,"y":-1.09},{"x":1907,"y":-1.26},{"x":1907,"y":-1.35},{"x":1907,"y":-2.04},
{"x":1908,"y":2.43},{"x":1908,"y":1.80},{"x":1908,"y":1.63},{"x":1908,"y":1.02},{"x":1908,"y":0.85},{"x":1908,"y":0.68},{"x":1908,"y":0.48},{"x":1908,"y":0.37},{"x":1908,"y":0.14},{"x":1908,"y":-0.09},{"x":1908,"y":-0.38},{"x":1908,"y":-0.61},{"x":1908,"y":-0.78},{"x":1908,"y":-0.89},{"x":1908,"y":-1.01},{"x":1908,"y":-1.72},{"x":1908,"y":-2.15},
{"x":1909,"y":1.37},{"x":1909,"y":0.94},{"x":1909,"y":0.77},{"x":1909,"y":0.54},{"x":1909,"y":0.34},{"x":1909,"y":0.17},{"x":1909,"y":-0.09},{"x":1909,"y":-0.21},{"x":1909,"y":-0.49},{"x":1909,"y":-0.66},{"x":1909,"y":-0.95},{"x":1909,"y":-1.01},{"x":1909,"y":-1.46},
{"x":1910,"y":1.68},{"x":1910,"y":1.45},{"x":1910,"y":1.17},{"x":1910,"y":1.00},{"x":1910,"y":0.77},{"x":1910,"y":0.60},{"x":1910,"y":0.31},{"x":1910,"y":0.14},{"x":1910,"y":0.02},{"x":1910,"y":-0.26},{"x":1910,"y":-0.49},{"x":1910,"y":-0.84},{"x":1910,"y":-1.24},{"x":1910,"y":-2.04},{"x":1910,"y":-2.21},
{"x":1911,"y":2.31},{"x":1911,"y":1.68},{"x":1911,"y":1.42},{"x":1911,"y":1.22},{"x":1911,"y":1.02},{"x":1911,"y":0.48},{"x":1911,"y":0.19},{"x":1911,"y":0.02},{"x":1911,"y":-0.32},{"x":1911,"y":-0.61},{"x":1911,"y":-1.12},{"x":1911,"y":-2.41},
{"x":1912,"y":1.85},{"x":1912,"y":1.28},{"x":1912,"y":1.05},{"x":1912,"y":0.80},{"x":1912,"y":0.54},{"x":1912,"y":0.19},{"x":1912,"y":-0.09},{"x":1912,"y":-0.32},{"x":1912,"y":-0.55},{"x":1912,"y":-0.75},{"x":1912,"y":-1.24},{"x":1912,"y":-1.41},
{"x":1913,"y":2.43},{"x":1913,"y":1.45},{"x":1913,"y":1.05},{"x":1913,"y":0.77},{"x":1913,"y":0.54},{"x":1913,"y":0.25},{"x":1913,"y":0.02},{"x":1913,"y":-0.09},{"x":1913,"y":-0.29},{"x":1913,"y":-0.49},{"x":1913,"y":-0.72},{"x":1913,"y":-1.01},{"x":1913,"y":-2.27},
{"x":1914,"y":1.97},{"x":1914,"y":1.34},{"x":1914,"y":1.02},{"x":1914,"y":0.71},{"x":1914,"y":0.37},{"x":1914,"y":0.14},{"x":1914,"y":-0.12},{"x":1914,"y":-0.26},{"x":1914,"y":-0.52},{"x":1914,"y":-0.78},{"x":1914,"y":-1.21},{"x":1914,"y":-1.38},{"x":1914,"y":-1.58},
{"x":1915,"y":2.40},{"x":1915,"y":2.00},{"x":1915,"y":1.11},{"x":1915,"y":0.97},{"x":1915,"y":0.85},{"x":1915,"y":0.62},{"x":1915,"y":0.25},{"x":1915,"y":0.14},{"x":1915,"y":-0.01},{"x":1915,"y":-0.15},{"x":1915,"y":-0.49},{"x":1915,"y":-0.75},{"x":1915,"y":-0.89},{"x":1915,"y":-1.24},{"x":1915,"y":-1.52},{"x":1915,"y":-1.81},{"x":1915,"y":-2.52},
{"x":1916,"y":1.45},{"x":1916,"y":1.28},{"x":1916,"y":1.11},{"x":1916,"y":0.91},{"x":1916,"y":0.71},{"x":1916,"y":0.48},{"x":1916,"y":0.19},{"x":1916,"y":-0.01},{"x":1916,"y":-0.12},{"x":1916,"y":-0.32},{"x":1916,"y":-0.43},{"x":1916,"y":-0.72},{"x":1916,"y":-1.06},{"x":1916,"y":-1.24},{"x":1916,"y":-1.84},{"x":1916,"y":-2.87},
{"x":1917,"y":2.60},{"x":1917,"y":1.22},{"x":1917,"y":1.05},{"x":1917,"y":0.77},{"x":1917,"y":0.57},{"x":1917,"y":0.39},{"x":1917,"y":0.22},{"x":1917,"y":0.02},{"x":1917,"y":-0.21},{"x":1917,"y":-0.43},{"x":1917,"y":-0.66},{"x":1917,"y":-0.95},{"x":1917,"y":-1.15},{"x":1917,"y":-1.58},
{"x":1918,"y":1.83},{"x":1918,"y":1.68},{"x":1918,"y":1.57},{"x":1918,"y":1.17},{"x":1918,"y":0.71},{"x":1918,"y":0.48},{"x":1918,"y":0.22},{"x":1918,"y":0.11},{"x":1918,"y":-0.21},{"x":1918,"y":-0.43},{"x":1918,"y":-0.72},{"x":1918,"y":-1.01},{"x":1918,"y":-1.21},{"x":1918,"y":-1.72},
{"x":1919,"y":1.40},{"x":1919,"y":1.28},{"x":1919,"y":1.00},{"x":1919,"y":0.82},{"x":1919,"y":0.60},{"x":1919,"y":0.37},{"x":1919,"y":0.22},{"x":1919,"y":0.02},{"x":1919,"y":-0.15},{"x":1919,"y":-0.38},{"x":1919,"y":-0.55},{"x":1919,"y":-0.78},{"x":1919,"y":-1.21},{"x":1919,"y":-1.58},
{"x":1920,"y":2.03},{"x":1920,"y":1.51},{"x":1920,"y":0.97},{"x":1920,"y":0.82},{"x":1920,"y":0.54},{"x":1920,"y":0.42},{"x":1920,"y":0.19},{"x":1920,"y":-0.09},{"x":1920,"y":-0.32},{"x":1920,"y":-0.43},{"x":1920,"y":-0.72},{"x":1920,"y":-0.95},{"x":1920,"y":-1.24},{"x":1920,"y":-1.81},{"x":1920,"y":-2.61},
{"x":1921,"y":2.51},{"x":1921,"y":2.25},{"x":1921,"y":2.14},{"x":1921,"y":1.83},{"x":1921,"y":1.51},{"x":1921,"y":1.14},{"x":1921,"y":0.91},{"x":1921,"y":0.68},{"x":1921,"y":0.37},{"x":1921,"y":0.14},{"x":1921,"y":-0.12},{"x":1921,"y":-0.38},{"x":1921,"y":-0.66},{"x":1921,"y":-0.95},{"x":1921,"y":-1.41},{"x":1921,"y":-1.61},
{"x":1922,"y":1.40},{"x":1922,"y":0.97},{"x":1922,"y":0.82},{"x":1922,"y":0.71},{"x":1922,"y":0.48},{"x":1922,"y":0.19},{"x":1922,"y":-0.06},{"x":1922,"y":-0.21},{"x":1922,"y":-0.38},{"x":1922,"y":-0.55},{"x":1922,"y":-0.78},{"x":1922,"y":-1.35},{"x":1922,"y":-1.92},{"x":1922,"y":-1.98},
{"x":1923,"y":2.20},{"x":1923,"y":1.63},{"x":1923,"y":1.34},{"x":1923,"y":1.14},{"x":1923,"y":0.71},{"x":1923,"y":0.48},{"x":1923,"y":0.25},{"x":1923,"y":0.14},{"x":1923,"y":-0.06},{"x":1923,"y":-0.32},{"x":1923,"y":-0.43},{"x":1923,"y":-0.72},{"x":1923,"y":-1.09},{"x":1923,"y":-1.44},{"x":1923,"y":-2.18},
{"x":1924,"y":2.05},{"x":1924,"y":1.45},{"x":1924,"y":1.17},{"x":1924,"y":0.88},{"x":1924,"y":0.65},{"x":1924,"y":0.48},{"x":1924,"y":0.14},{"x":1924,"y":-0.06},{"x":1924,"y":-0.26},{"x":1924,"y":-0.38},{"x":1924,"y":-0.61},{"x":1924,"y":-0.81},{"x":1924,"y":-0.95},{"x":1924,"y":-1.29},
{"x":1925,"y":1.74},{"x":1925,"y":1.51},{"x":1925,"y":1.02},{"x":1925,"y":0.77},{"x":1925,"y":0.60},{"x":1925,"y":0.37},{"x":1925,"y":0.05},{"x":1925,"y":-0.21},{"x":1925,"y":-0.43},{"x":1925,"y":-0.86},{"x":1925,"y":-0.95},{"x":1925,"y":-1.18},{"x":1925,"y":-1.69},
{"x":1926,"y":1.51},{"x":1926,"y":1.34},{"x":1926,"y":1.00},{"x":1926,"y":0.77},{"x":1926,"y":0.60},{"x":1926,"y":0.25},{"x":1926,"y":-0.12},{"x":1926,"y":-0.29},{"x":1926,"y":-0.49},{"x":1926,"y":-0.78},{"x":1926,"y":-0.92},{"x":1926,"y":-1.52},{"x":1926,"y":-1.95},
{"x":1927,"y":2.68},{"x":1927,"y":1.94},{"x":1927,"y":1.60},{"x":1927,"y":1.11},{"x":1927,"y":0.85},{"x":1927,"y":0.60},{"x":1927,"y":0.37},{"x":1927,"y":0.19},{"x":1927,"y":-0.09},{"x":1927,"y":-0.26},{"x":1927,"y":-0.43},{"x":1927,"y":-0.69},{"x":1927,"y":-1.29},{"x":1927,"y":-1.58},{"x":1927,"y":-2.52},
{"x":1928,"y":2.08},{"x":1928,"y":1.45},{"x":1928,"y":1.14},{"x":1928,"y":0.97},{"x":1928,"y":0.71},{"x":1928,"y":0.48},{"x":1928,"y":0.19},{"x":1928,"y":0.02},{"x":1928,"y":-0.18},{"x":1928,"y":-0.38},{"x":1928,"y":-0.61},{"x":1928,"y":-1.06},{"x":1928,"y":-1.81},{"x":1928,"y":-2.12},
{"x":1929,"y":2.43},{"x":1929,"y":2.11},{"x":1929,"y":1.51},{"x":1929,"y":1.17},{"x":1929,"y":0.71},{"x":1929,"y":0.42},{"x":1929,"y":0.19},{"x":1929,"y":0.08},{"x":1929,"y":-0.21},{"x":1929,"y":-0.49},{"x":1929,"y":-0.72},{"x":1929,"y":-1.24},{"x":1929,"y":-1.49},{"x":1929,"y":-2.55},
{"x":1930,"y":2.25},{"x":1930,"y":1.40},{"x":1930,"y":1.14},{"x":1930,"y":1.02},{"x":1930,"y":0.71},{"x":1930,"y":0.57},{"x":1930,"y":0.14},{"x":1930,"y":0.02},{"x":1930,"y":-0.12},{"x":1930,"y":-0.43},{"x":1930,"y":-0.78},{"x":1930,"y":-1.06},{"x":1930,"y":-1.24},{"x":1930,"y":-1.72},
{"x":1931,"y":2.34},{"x":1931,"y":1.71},{"x":1931,"y":1.00},{"x":1931,"y":0.71},{"x":1931,"y":0.48},{"x":1931,"y":0.14},{"x":1931,"y":-0.03},{"x":1931,"y":-0.21},{"x":1931,"y":-0.64},{"x":1931,"y":-0.78},{"x":1931,"y":-1.09},{"x":1931,"y":-1.35},
{"x":1932,"y":2.20},{"x":1932,"y":0.88},{"x":1932,"y":0.74},{"x":1932,"y":0.37},{"x":1932,"y":0.14},{"x":1932,"y":0.11},{"x":1932,"y":-0.43},{"x":1932,"y":-0.61},{"x":1932,"y":-0.69},{"x":1932,"y":-0.86},{"x":1932,"y":-1.55},{"x":1932,"y":-1.81},
{"x":1933,"y":1.68},{"x":1933,"y":0.97},{"x":1933,"y":0.88},{"x":1933,"y":0.54},{"x":1933,"y":0.34},{"x":1933,"y":0.11},{"x":1933,"y":-0.06},{"x":1933,"y":-0.21},{"x":1933,"y":-0.41},{"x":1933,"y":-0.61},{"x":1933,"y":-0.78},{"x":1933,"y":-1.61},
{"x":1934,"y":1.63},{"x":1934,"y":1.25},{"x":1934,"y":1.20},{"x":1934,"y":1.02},{"x":1934,"y":0.80},{"x":1934,"y":0.42},{"x":1934,"y":0.05},{"x":1934,"y":-0.32},{"x":1934,"y":-0.52},{"x":1934,"y":-0.66},{"x":1934,"y":-1.04},{"x":1934,"y":-1.75},
{"x":1935,"y":1.80},{"x":1935,"y":1.60},{"x":1935,"y":1.28},{"x":1935,"y":1.20},{"x":1935,"y":0.57},{"x":1935,"y":0.42},{"x":1935,"y":-0.12},{"x":1935,"y":-0.26},{"x":1935,"y":-0.43},{"x":1935,"y":-0.61},{"x":1935,"y":-0.86},{"x":1935,"y":-0.98},{"x":1935,"y":-1.24},{"x":1935,"y":-1.89},
{"x":1936,"y":1.94},{"x":1936,"y":0.94},{"x":1936,"y":0.88},{"x":1936,"y":0.57},{"x":1936,"y":0.48},{"x":1936,"y":0.25},{"x":1936,"y":0.02},{"x":1936,"y":-0.23},{"x":1936,"y":-0.41},{"x":1936,"y":-0.64},{"x":1936,"y":-0.81},{"x":1936,"y":-0.95},{"x":1936,"y":-1.29},
{"x":1937,"y":1.68},{"x":1937,"y":1.60},{"x":1937,"y":1.51},{"x":1937,"y":1.34},{"x":1937,"y":0.57},{"x":1937,"y":0.51},{"x":1937,"y":0.34},{"x":1937,"y":-0.15},{"x":1937,"y":-0.29},{"x":1937,"y":-0.55},{"x":1937,"y":-0.64},{"x":1937,"y":-0.81},{"x":1937,"y":-1.58},{"x":1937,"y":-1.67},{"x":1937,"y":-1.92},
{"x":1938,"y":2.03},{"x":1938,"y":1.22},{"x":1938,"y":0.85},{"x":1938,"y":0.51},{"x":1938,"y":0.39},{"x":1938,"y":0.22},{"x":1938,"y":-0.12},{"x":1938,"y":-0.35},{"x":1938,"y":-0.89},{"x":1938,"y":-1.26},{"x":1938,"y":-1.49},{"x":1938,"y":-1.75},
{"x":1939,"y":2.80},{"x":1939,"y":1.08},{"x":1939,"y":0.91},{"x":1939,"y":0.68},{"x":1939,"y":0.42},{"x":1939,"y":0.25},{"x":1939,"y":0.08},{"x":1939,"y":-0.29},{"x":1939,"y":-1.15},{"x":1939,"y":-1.21},{"x":1939,"y":-1.52},{"x":1939,"y":-1.69},
{"x":1940,"y":1.11},{"x":1940,"y":0.60},{"x":1940,"y":0.54},{"x":1940,"y":0.45},{"x":1940,"y":0.31},{"x":1940,"y":0.02},{"x":1940,"y":-0.03},{"x":1940,"y":-0.75},{"x":1940,"y":-1.38},
{"x":1941,"y":1.02},{"x":1941,"y":0.88},{"x":1941,"y":0.42},{"x":1941,"y":0.11},{"x":1941,"y":-0.12},{"x":1941,"y":-0.35},{"x":1941,"y":-0.49},{"x":1941,"y":-0.78},
{"x":1942,"y":1.80},{"x":1942,"y":1.51},{"x":1942,"y":0.77},{"x":1942,"y":0.48},{"x":1942,"y":0.14},{"x":1942,"y":-0.21},{"x":1942,"y":-1.61},{"x":1942,"y":-2.04},{"x":1942,"y":-2.38},
{"x":1943,"y":1.08},{"x":1943,"y":0.74},{"x":1943,"y":0.60},{"x":1943,"y":0.08},{"x":1943,"y":-0.09},{"x":1943,"y":-0.23},{"x":1943,"y":-2.27},
{"x":1944,"y":1.40},{"x":1944,"y":0.77},{"x":1944,"y":0.65},{"x":1944,"y":0.34},{"x":1944,"y":-0.29},{"x":1944,"y":-0.52},{"x":1944,"y":-0.84},{"x":1944,"y":-1.75},
{"x":1945,"y":1.25},{"x":1945,"y":0.85},{"x":1945,"y":0.19},{"x":1945,"y":0.14},{"x":1945,"y":-0.58},{"x":1945,"y":-0.89},{"x":1945,"y":-1.09},
{"x":1946,"y":0.42},{"x":1946,"y":0.28},{"x":1946,"y":-0.03},{"x":1946,"y":-0.55},{"x":1946,"y":-0.69},
{"x":1947,"y":1.17},{"x":1947,"y":0.57},{"x":1947,"y":0.22},{"x":1947,"y":-0.72},{"x":1947,"y":-1.32},
{"x":1948,"y":0.65},{"x":1948,"y":0.37},{"x":1948,"y":-0.38},{"x":1948,"y":-0.64},
{"x":1949,"y":0.39},{"x":1949,"y":-0.12},{"x":1949,"y":-0.26},
{"x":1950,"y":0.03},{"x":1950,"y":-0.06},
{"x":1951,"y":0.04}
]
},
"hconcat":[
{"title":"Lee-Carter","width":433,"height":495,"data":{"name":"lc"},
"layer":[
{"mark":{"type":"point","shape":"M-1,0L1,0M0,-1L0,1","filled":false,"stroke":"black","strokeWidth":1.3,"size":24,"opacity":1},
"encoding":{
"x":{"field":"x","type":"quantitative","scale":{"domain":[1872,1954.2],"nice":false,"zero":false},"axis":{"title":"year of birth","values":[1880,1900,1920,1940],"labelPadding":11,"titlePadding":15,"labelExpr":"''+datum.value"}},
"y":{"field":"y","type":"quantitative","scale":{"domain":[-4.37,4.37],"nice":false,"zero":false},"axis":{"title":"residuals","values":[-4,-2,0,2,4],"labelAngle":270,"labelBaseline":"bottom","labelAlign":"center","labelPadding":9,"titlePadding":14,"labelExpr":"''+datum.value"}}
}},
{"mark":{"type":"rule","color":"black","strokeWidth":1},"encoding":{"y":{"datum":0}}}
]},
{"title":{"text":"Renshaw and Haberman","offset":14},"width":419,"height":490,"data":{"name":"rh"},"view":{"stroke":null},
"layer":[
{"mark":{"type":"point","shape":"M-1,0L1,0M0,-1L0,1","filled":false,"stroke":"black","strokeWidth":1.3,"size":24,"opacity":1},
"encoding":{
"x":{"field":"x","type":"quantitative","scale":{"domain":[1872,1951.66],"nice":false,"zero":false},"axis":{"title":"year of birth","values":[1880,1900,1920,1940],"domain":true,"domainColor":"#333","labelPadding":12,"titlePadding":15,"labelExpr":"''+datum.value"}},
"y":{"field":"y","type":"quantitative","scale":{"domain":[-4.16,4.2806],"nice":false,"zero":false},"axis":{"title":"residuals","values":[-4,-2,0,2,4],"domain":false,"labelAngle":270,"labelBaseline":"bottom","labelAlign":"center","labelPadding":9,"titlePadding":14,"labelExpr":"''+datum.value"}}
}},
{"mark":{"type":"rule","color":"black","strokeWidth":1},"encoding":{"y":{"datum":0}}},
{"mark":{"type":"rule","color":"#333","strokeWidth":1},"encoding":{"y":{"datum":4.1514}}},
{"mark":{"type":"rule","color":"#333","strokeWidth":1},"encoding":{"x":{"datum":1872.095},"y":{"datum":4.16},"y2":{"datum":-4.16}}}
]}
]
}
